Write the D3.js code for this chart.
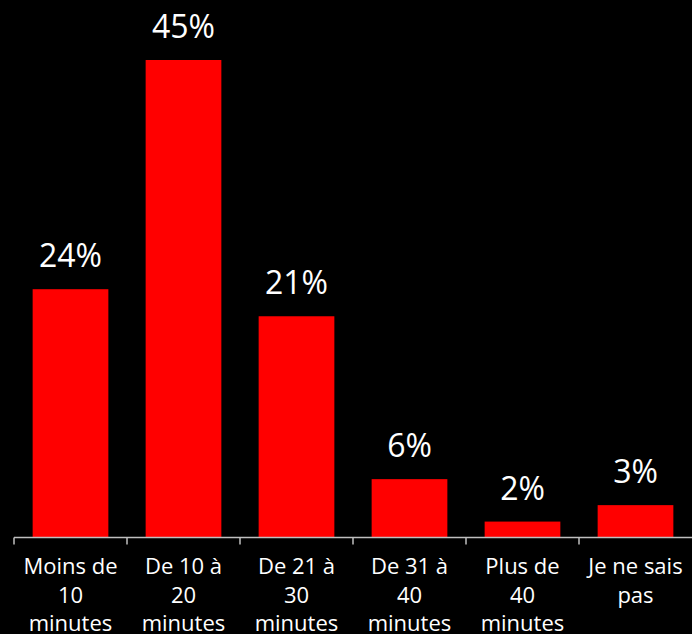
<!DOCTYPE html>
<html><head><meta charset="utf-8">
<script src="https://cdn.jsdelivr.net/npm/d3@7"></script>
<style>html,body{margin:0;padding:0;background:#000;}svg{display:block;}</style>
</head><body>
<svg id="chart" width="692" height="634"></svg>
<script>
const categoryLines = [["Moins de","10","minutes"],["De 10 à","20","minutes"],["De 21 à","30","minutes"],["De 31 à","40","minutes"],["Plus de","40","minutes"],["Je ne sais","pas"]];
const categories = categoryLines.map(l => l.join(" "));
const values = [23.4, 45, 20.85, 5.5, 1.5, 3.05];
const valueLabels = ["24%","45%","21%","6%","2%","3%"];

const W = 692, H = 634;
const svg = d3.select("#chart");
svg.append("rect").attr("width", W).attr("height", H).attr("fill", "#000");
const baseY = 537.5;
const x = d3.scaleBand().domain(categories).range([14, 692]).paddingInner(0.33).paddingOuter(0.165);
const y = d3.scaleLinear().domain([0, 45]).range([baseY, 60]);
const font = "'Open Sans', sans-serif";

svg.selectAll("rect.bar").data(categories).join("rect").attr("class","bar")
  .attr("x", d => x(d)).attr("width", x.bandwidth())
  .attr("y", (d,i) => y(values[i])).attr("height", (d,i) => baseY - y(values[i]))
  .attr("fill", "#ff0000");

svg.selectAll("text.val").data(categories).join("text").attr("class","val")
  .attr("x", d => x(d) + x.bandwidth()/2)
  .attr("y", (d,i) => y(values[i]) - 22)
  .attr("text-anchor","middle").attr("fill","#fff")
  .style("font-family", font).style("font-size","32px")
  .text((d,i) => valueLabels[i]);

const step = x.step();
const g = svg.append("g");
g.append("line").attr("x1", 14).attr("x2", 692).attr("y1", baseY).attr("y2", baseY)
  .attr("stroke", "#bfbfbf").attr("stroke-width", 1.5);
d3.range(categories.length).forEach(i => {
  const tx = 14 + i * step;
  g.append("line").attr("x1", tx).attr("x2", tx).attr("y1", baseY).attr("y2", baseY + 7)
    .attr("stroke", "#bfbfbf").attr("stroke-width", 1.5);
});

const lab = svg.selectAll("text.cat").data(categories).join("text").attr("class","cat")
  .attr("text-anchor","middle").attr("fill","#fff")
  .style("font-family", font).style("font-size","22px");
lab.each(function(d, i){
  const t = d3.select(this);
  const cx = x(d) + x.bandwidth()/2;
  categoryLines[i].forEach((l, k) => t.append("tspan").attr("x", cx).attr("y", 574 + k * 28.5).text(l));
});
</script>
</body></html>
